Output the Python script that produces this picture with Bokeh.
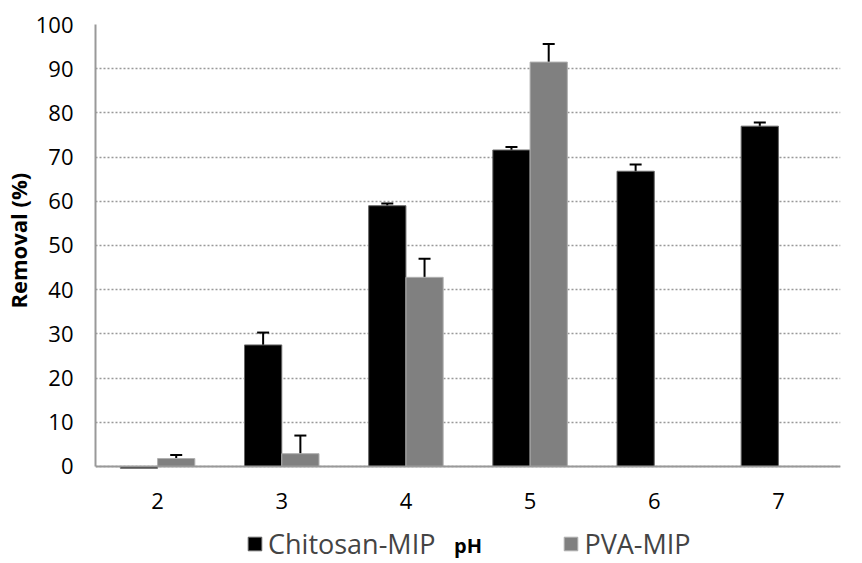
from bokeh.plotting import figure
from bokeh.models import (FactorRange, Range1d, ColumnDataSource, Whisker, TeeHead,
                          Legend, LegendItem, FixedTicker, Title)
from bokeh.transform import dodge
from bokeh.embed import file_html
from bokeh.resources import INLINE

ph = ["2", "3", "4", "5", "6", "7"]
chitosan = [-0.4, 27.5, 59.0, 71.6, 66.8, 77.0]
chitosan_err = [0.0, 2.8, 0.5, 0.7, 1.5, 0.8]
pva = [1.8, 2.9, 42.8, 91.5, 0.0, 0.0]
pva_err = [0.8, 4.1, 4.2, 4.1, 0.0, 0.0]
y_ticks = [0, 10, 20, 30, 40, 50, 60, 70, 80, 90, 100]

FONT = "Open Sans"
GRAY = "#808080"
AXIS_GRAY = "#999999"

p = figure(width=862, height=563, x_range=FactorRange(*ph), y_range=Range1d(-21.95, 100),
           output_backend="svg", toolbar_location=None,
           min_border_left=94, min_border_right=22, min_border_top=24, min_border_bottom=0)
p.outline_line_color = None

src = ColumnDataSource(dict(ph=ph, c=chitosan, v=pva))
rc = p.vbar(x=dodge("ph", -0.15, range=p.x_range), top="c", width=0.3, source=src,
            fill_color="black", line_color="#666666", line_width=1)
rv = p.vbar(x=dodge("ph", 0.15, range=p.x_range), top="v", width=0.3, source=src,
            fill_color=GRAY, line_color="#b0b0b0", line_width=1)


def add_errors(vals, errs, off):
    full = dict(ph=[], upper=[], lower=[])
    cut = dict(ph=[], upper=[], lower=[])
    for f, v, e in zip(ph, vals, errs):
        if e <= 0:
            continue
        d = full if v - e >= 0 else cut
        d["ph"].append(f)
        d["upper"].append(v + e)
        d["lower"].append(max(v - e, 0))
    for d, lower_head in [(full, True), (cut, False)]:
        if not d["ph"]:
            continue
        w = Whisker(base=dodge("ph", off, range=p.x_range), upper="upper", lower="lower",
                    source=ColumnDataSource(d), line_color="black", line_width=2,
                    upper_head=TeeHead(size=12, line_color="black", line_width=2),
                    lower_head=TeeHead(size=12, line_color="black", line_width=2) if lower_head else None)
        p.add_layout(w)


add_errors(chitosan, chitosan_err, -0.15)
add_errors(pva, pva_err, 0.15)

p.xgrid.grid_line_color = None
p.ygrid.ticker = FixedTicker(ticks=y_ticks)
p.ygrid.grid_line_color = AXIS_GRAY
p.ygrid.grid_line_dash = "2 2"
p.ygrid.grid_line_width = 1.5

p.yaxis.ticker = FixedTicker(ticks=y_ticks)
p.yaxis.bounds = (0, 100)
p.yaxis.axis_line_color = AXIS_GRAY
p.yaxis.axis_line_width = 2
p.yaxis.major_tick_line_color = None
p.yaxis.major_tick_out = 0
p.yaxis.minor_tick_line_color = None
p.yaxis.minor_tick_out = 0
p.yaxis.major_label_text_font = FONT
p.yaxis.major_label_text_font_size = "22px"
p.yaxis.major_label_text_color = "black"
p.yaxis.major_label_standoff = 22

ytitle = Title(text="Removal (%)", align="left", offset=255, standoff=0,
               vertical_align="bottom", text_font=FONT, text_font_size="22px",
               text_font_style="bold", text_color="black")
p.add_layout(ytitle, "left")

p.xaxis.fixed_location = 0
p.xaxis.axis_line_color = AXIS_GRAY
p.xaxis.axis_line_width = 2
p.xaxis.major_tick_line_color = None
p.xaxis.major_tick_out = 0
p.xaxis.minor_tick_line_color = None
p.xaxis.major_label_text_font = FONT
p.xaxis.major_label_text_font_size = "22px"
p.xaxis.major_label_text_color = "black"
p.xaxis.major_label_standoff = 27
p.xaxis.axis_label = "pH"
p.xaxis.axis_label_text_font = FONT
p.xaxis.axis_label_text_font_style = "bold"
p.xaxis.axis_label_text_font_size = "20px"
p.xaxis.axis_label_text_color = "black"
p.xaxis.axis_label_standoff = 19

legend = Legend(items=[LegendItem(label="Chitosan-MIP", renderers=[rc]),
                       LegendItem(label="PVA-MIP", renderers=[rv])],
                location=(151, 1), orientation="horizontal", spacing=127,
                glyph_width=17, glyph_height=17, label_standoff=5,
                label_text_font=FONT, label_text_font_size="27px",
                padding=0, margin=0, border_line_color=None, background_fill_alpha=0)
p.add_layout(legend)

open("out.html", "w").write(file_html(p, INLINE))
